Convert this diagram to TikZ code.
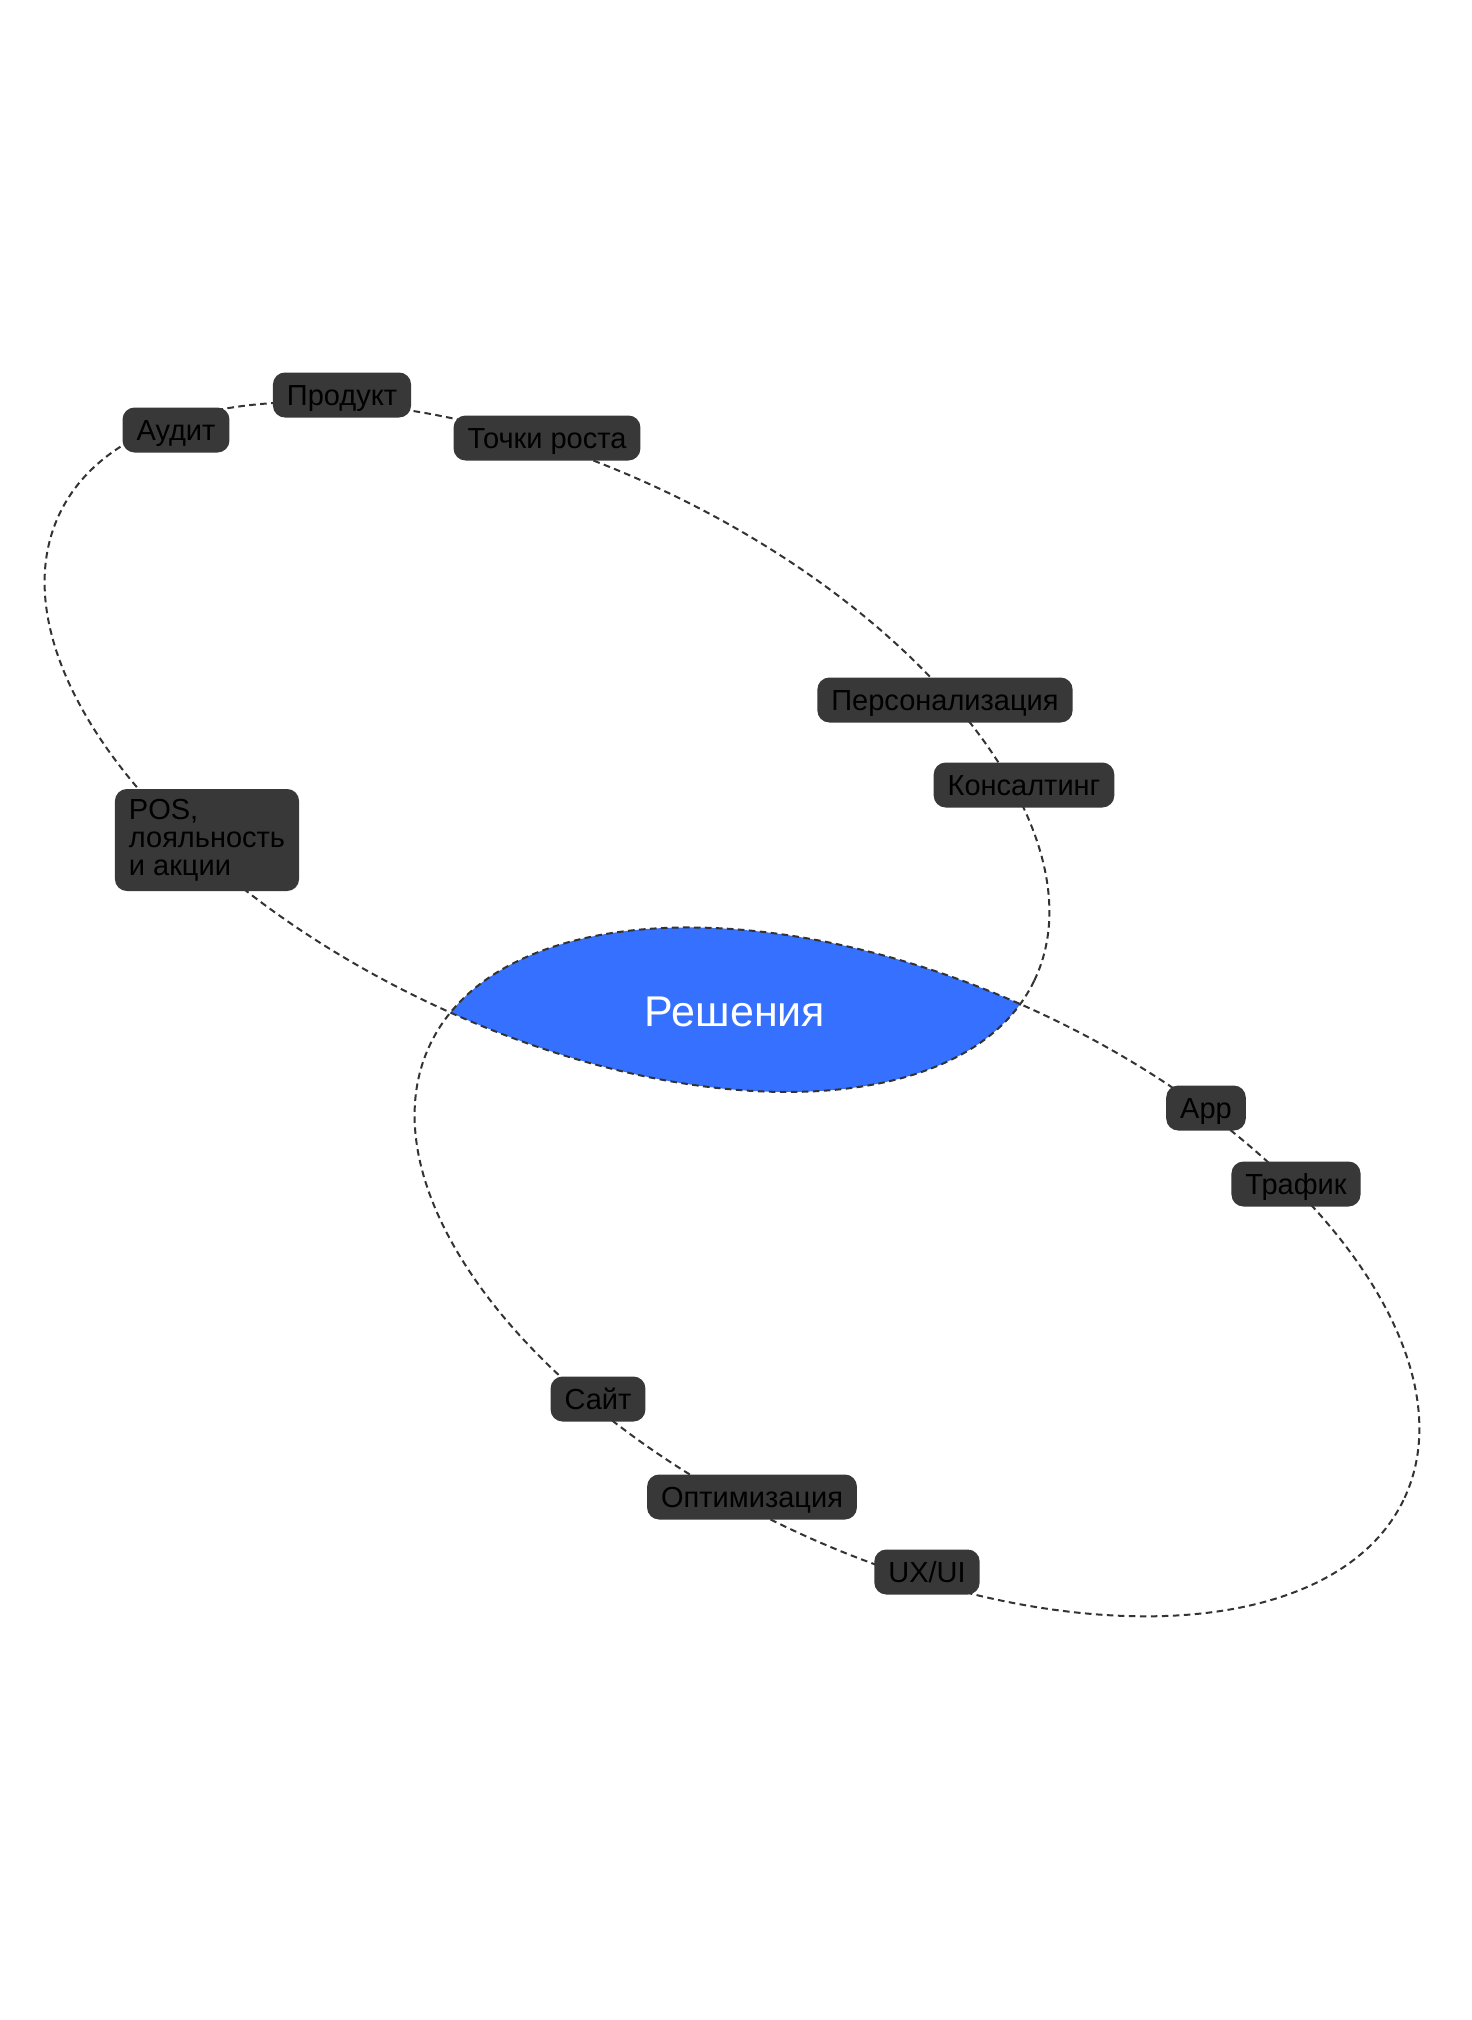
\documentclass[tikz,border=0pt]{standalone}
\usepackage{fontspec}
\setmainfont{Liberation Sans}
\definecolor{lensblue}{HTML}{3670FF}
\definecolor{chipgray}{HTML}{383838}
\definecolor{orbitgray}{HTML}{333333}
\begin{document}
\begin{tikzpicture}[x=0.5pt,y=-0.5pt]
        \useasboundingbox (0,0) rectangle (1472,2020);

        \coordinate (c1) at (547,747);
        \coordinate (c2) at (917,1272);

        \begin{scope}
          \clip [rotate around={-25.6:(c1)}] (c1) ellipse [x radius=270.2pt, y radius=140.8pt];
          \fill [lensblue, rotate around={-24.85:(c2)}] (c2) ellipse [x radius=268.7pt, y radius=143.3pt];
        \end{scope}

        \begin{scope}[every path/.style={draw=orbitgray,line width=1pt,dash pattern=on 3.3pt off 2.2pt}]
          \path [rotate around={-25.6:(c1)}] (c1) ellipse [x radius=270.2pt, y radius=140.8pt];
          \path [rotate around={-24.85:(c2)}] (c2) ellipse [x radius=268.7pt, y radius=143.3pt];
        \end{scope}

        \node (solutions) [anchor=base,text=white,font=\fontsize{21.5}{25}\selectfont] at (735,1026) {Решения};

        \begin{scope}[every node/.style={fill=chipgray,rounded corners=6pt,text=black,
            font=\fontsize{14.5}{14}\selectfont,inner xsep=7pt,inner ysep=0pt,
            text height=10.4pt,text depth=0pt,minimum height=22.5pt}]
          \node (audit)    at (176,430)   {Аудит};
          \node (product)  at (342,395)   {Продукт};
          \node (growth)   at (547,438)   {Точки роста};
          \node (personal) at (945,700)   {Персонализация};
          \node (consult)  at (1024,785)  {Консалтинг};
          \node (app)      at (1206,1108) {App};
          \node (traffic)  at (1296,1184) {Трафик};
          \node (site)     at (598,1399)  {Сайт};
          \node (optim)    at (752,1497)  {Оптимизация};
          \node (uxui)     at (927,1572)  {UX/UI};
        \end{scope}

        \node (pos) [fill=chipgray,rounded corners=6pt,text=black,align=left,
          font=\fontsize{14.5}{14}\selectfont,inner xsep=7pt,inner ysep=5pt,
          minimum height=50pt] at (207,840) {POS,\\лояльность\\и акции};

      \end{tikzpicture}
\end{document}
